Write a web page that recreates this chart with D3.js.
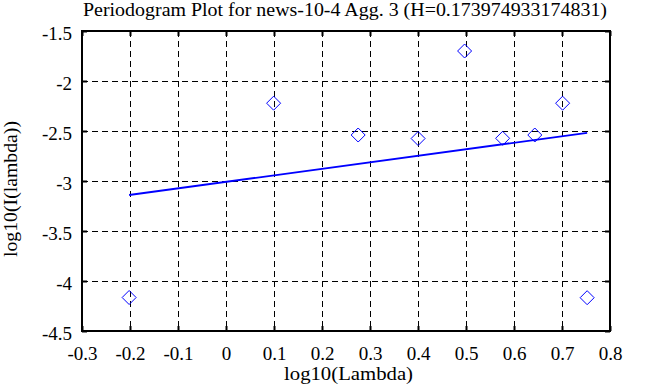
<!DOCTYPE html>
<html><head><meta charset="utf-8">
<script src="https://cdn.jsdelivr.net/npm/d3@7"></script>
<style>body{margin:0;background:#fff}svg{display:block}</style>
</head><body>
<script>
const xValues = [-0.2018, 0.0992, 0.2753, 0.4002, 0.4971, 0.5763, 0.6433, 0.7013, 0.7524];
const yValues = [-4.165, -2.222, -2.540, -2.575, -1.700, -2.573, -2.540, -2.222, -4.167];
const fitX = [-0.2018, 0.7524];
const fitY = [-3.140, -2.518];
const xTicks = [-0.3, -0.2, -0.1, 0, 0.1, 0.2, 0.3, 0.4, 0.5, 0.6, 0.7, 0.8];
const yTicks = [-1.5, -2, -2.5, -3, -3.5, -4, -4.5];
const title = "Periodogram Plot for news-10-4 Agg. 3 (H=0.173974933174831)";

const W = 647, H = 387;
const L = 82, R = 610, T = 31, B = 331;
const font = "'Liberation Serif', 'DejaVu Serif', 'Times New Roman', serif";
const fmt = d => d3.format("~g")(d).replace("\u2212", "-");

const svg = d3.select("body").append("svg").attr("width", W).attr("height", H);
const x = d3.scaleLinear().domain([-0.3, 0.8]).range([L, R]);
const y = d3.scaleLinear().domain([-4.5, -1.5]).range([B, T]);

// grid
const g = svg.append("g");
g.selectAll(".vg").data(xTicks.slice(1, -1)).join("line")
  .attr("x1", d => x(d)).attr("x2", d => x(d)).attr("y1", T).attr("y2", B)
  .attr("stroke", "#000").attr("stroke-width", 1).attr("stroke-dasharray", "6,4").attr("shape-rendering", "crispEdges");
g.selectAll(".hg").data(yTicks.slice(1, -1)).join("line")
  .attr("y1", d => y(d)).attr("y2", d => y(d)).attr("x1", L).attr("x2", R)
  .attr("stroke", "#000").attr("stroke-width", 1).attr("stroke-dasharray", "6,4").attr("shape-rendering", "crispEdges");

// axes
const xb = d3.axisBottom(x).tickValues(xTicks).tickSize(-5).tickPadding(0).tickFormat(fmt);
const xt = d3.axisTop(x).tickValues(xTicks).tickSize(-5).tickFormat("");
const yl = d3.axisLeft(y).tickValues(yTicks).tickSize(-5).tickPadding(10).tickFormat(fmt);
const yr = d3.axisRight(y).tickValues(yTicks).tickSize(-5).tickFormat("");
function style(sel){
  sel.select(".domain").remove();
  sel.selectAll("line").attr("stroke", "#000").attr("stroke-width", 2);
  sel.selectAll("text").attr("font-family", font).attr("font-size", 19).attr("fill", "#000");
}
const gxb = svg.append("g").attr("transform", `translate(0,${B})`).call(xb).call(style);
gxb.selectAll("text").attr("dy", null).attr("y", 29);
const gyl = svg.append("g").attr("transform", `translate(${L},0)`).call(yl).call(style);
gyl.selectAll("text").attr("dy", "0.45em");
svg.append("g").attr("transform", `translate(0,${T})`).call(xt).call(style);
svg.append("g").attr("transform", `translate(${R},0)`).call(yr).call(style);
svg.append("rect").attr("x", L).attr("y", T).attr("width", R - L).attr("height", B - T)
  .attr("fill", "none").attr("stroke", "#000").attr("stroke-width", 2);

// fit line
const fit = fitX.map((d, i) => [d, fitY[i]]);
svg.append("path").datum(fit)
  .attr("d", d3.line().x(d => x(d[0])).y(d => y(d[1])))
  .attr("stroke", "#0000ff").attr("stroke-width", 1.8).attr("fill", "none");

// diamonds
const pts = xValues.map((d, i) => [d, yValues[i]]);
const r = 7;
svg.selectAll(".pt").data(pts).join("path")
  .attr("d", d => { const cx = x(d[0]), cy = y(d[1]); return `M${cx},${cy - r}L${cx + r},${cy}L${cx},${cy + r}L${cx - r},${cy}Z`; })
  .attr("fill", "none").attr("stroke", "#0000ff").attr("stroke-width", 1);

// texts
svg.append("text").attr("x", 83).attr("y", 16)
  .attr("textLength", 524).attr("lengthAdjust", "spacingAndGlyphs")
  .attr("font-family", font).attr("font-size", 19).text(title);
svg.append("text").attr("x", 284).attr("y", 380)
  .attr("textLength", 129).attr("lengthAdjust", "spacingAndGlyphs")
  .attr("font-family", font).attr("font-size", 19).text("log10(Lambda)");
svg.append("text").attr("transform", `translate(17,257) rotate(-90)`)
  .attr("textLength", 136).attr("lengthAdjust", "spacingAndGlyphs")
  .attr("font-family", font).attr("font-size", 18).text("log10(I(lambda))");
</script>
</body></html>
